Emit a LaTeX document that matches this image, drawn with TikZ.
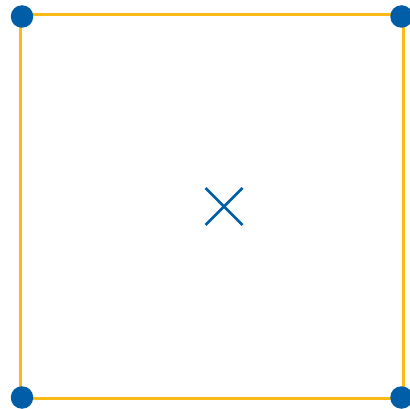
\documentclass[tikz,border=0pt]{standalone}
\definecolor{edgeyellow}{HTML}{FBBA16}
\definecolor{dotblue}{HTML}{005DA8}
\tikzset{
  edge/.style={draw=edgeyellow, line width=3pt},
  vertex/.style={circle, fill=dotblue, inner sep=0pt, minimum size=22.5pt},
  crossmark/.style={draw=dotblue, line width=2.6pt}
}
\begin{document}
\begin{tikzpicture}[x=1pt,y=-1pt]
\useasboundingbox (0,0) rectangle (410,409);
\coordinate (tl) at (20,15);
\coordinate (tr) at (403,15);
\coordinate (br) at (403,398);
\coordinate (bl) at (20,398);
\draw[edge] (tl) -- (tr) -- (br) -- (bl) -- cycle;
\node[vertex] (vtl) at (22,16.5) {};
\node[vertex] (vtr) at (401.5,16.5) {};
\node[vertex] (vbr) at (401.5,397.5) {};
\node[vertex] (vbl) at (22,397.5) {};
\coordinate (c) at (224,206.5);
\draw[crossmark] ([shift={(-18.5,-18.5)}]c) -- ([shift={(18.5,18.5)}]c);
\draw[crossmark] ([shift={(-18.5,18.5)}]c) -- ([shift={(18.5,-18.5)}]c);
\end{tikzpicture}
\end{document}
